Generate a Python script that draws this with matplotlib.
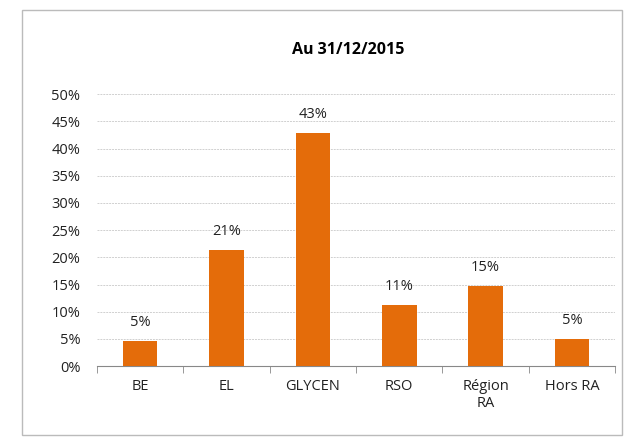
import matplotlib.pyplot as plt
import numpy as np
from matplotlib.patches import Rectangle

categories = ['BE', 'EL', 'GLYCEN', 'RSO', 'Région\nRA', 'Hors RA']
values = [4.6, 21.3, 42.8, 11.3, 14.8, 5.0]
labels = ['5%', '21%', '43%', '11%', '15%', '5%']
yticks = np.arange(0, 51, 5)

plt.rcParams['font.family'] = ['Open Sans', 'DejaVu Sans']

fig = plt.figure(figsize=(6.28, 4.40), dpi=100)
ax = fig.add_axes([0.1545, 0.168, 0.825, 0.618])

x = np.arange(len(categories))
ax.bar(x, values, width=0.4, color='#E46C0A', zorder=3)
for xi, v, lab in zip(x, values, labels):
    ax.text(xi, v + 2.0, lab, ha='center', va='bottom', fontsize=10.5, color='#222222')

ax.set_xlim(-0.5, len(categories) - 0.5)
ax.set_ylim(0, 50)
ax.set_yticks(yticks)
ax.set_yticklabels([f'{t}%' for t in yticks], fontsize=10.5, color='#222222')
ax.yaxis.grid(True, color='#D0D0D0', linewidth=0.7, linestyle=(0, (2, 1)), zorder=0)
ax.tick_params(axis='y', length=0, pad=12)

ax.set_xticks(x)
ax.set_xticklabels(categories, fontsize=10.5, color='#222222', linespacing=1.25)
ax.set_xticks(np.arange(-0.5, len(categories), 1), minor=True)
ax.tick_params(axis='x', which='major', length=0, pad=9)
ax.tick_params(axis='x', which='minor', length=5, color='#888888')

for s in ['top', 'right', 'left']:
    ax.spines[s].set_visible(False)
ax.spines['bottom'].set_color('#888888')

fig.text(0.555, 0.886, 'Au 31/12/2015', ha='center', va='center',
         fontsize=11.5, fontweight='bold')

fig.patches.append(Rectangle((0.035, 0.012), 0.955, 0.965, transform=fig.transFigure,
                             fill=False, edgecolor='#BBBBBB', linewidth=1))

fig.savefig('out.png', dpi=100)
